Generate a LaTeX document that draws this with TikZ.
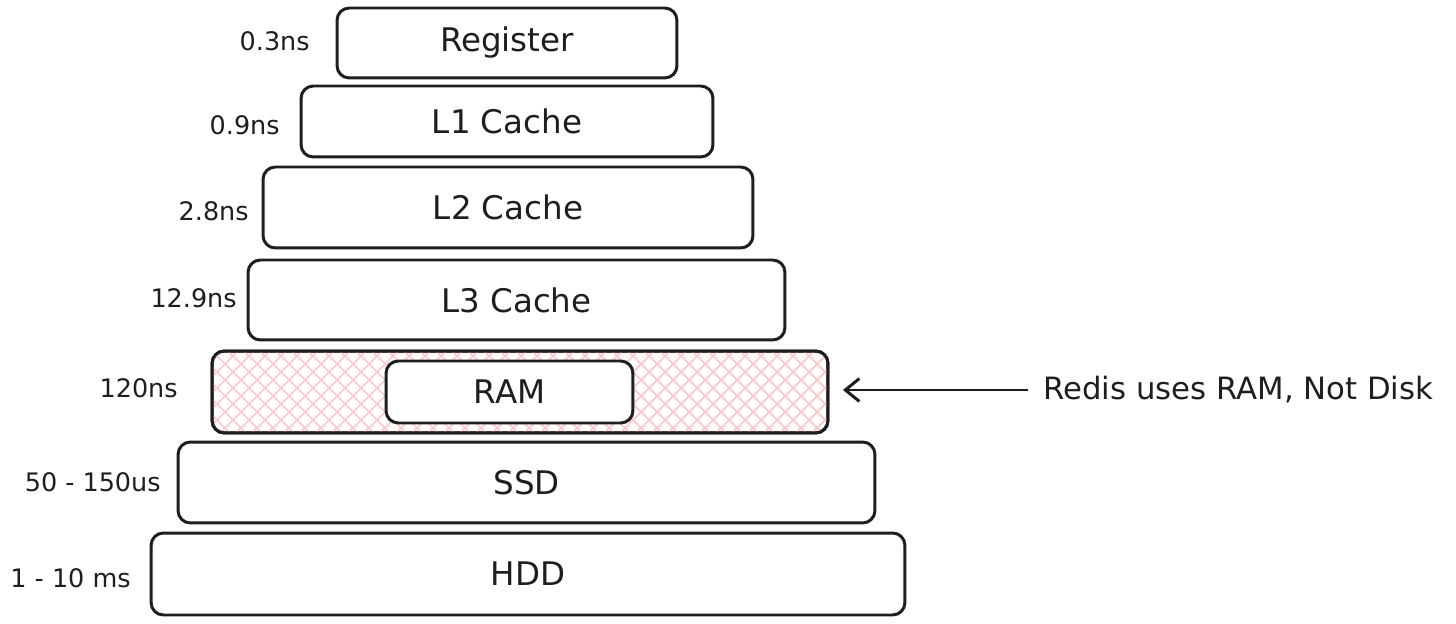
\documentclass[tikz,border=0pt]{standalone}
\usepackage{fontspec}
\setmainfont{DejaVu Sans}
\usetikzlibrary{arrows.meta}
\definecolor{hatchpink}{HTML}{FFC9C9}
\definecolor{inkblack}{HTML}{1E1E1E}
\tikzset{
  tier/.style={draw=inkblack, line width=1.7pt, rounded corners=7pt, inner sep=0pt, outer sep=0pt, fill=white, font=\fontsize{18.5}{22}\selectfont, text=inkblack},
  latency/.style={anchor=east, inner sep=0pt, font=\fontsize{14.5}{17}\selectfont, text=inkblack},
  notetext/.style={anchor=west, inner sep=0pt, font=\fontsize{17.5}{20}\selectfont, text=inkblack},
  pointer/.style={draw=inkblack, line width=1.7pt, -{Straight Barb[length=8pt,width=13pt,line width=1.7pt]}}
}
\begin{document}
\begin{tikzpicture}[x=0.02cm,y=-0.02cm]
\useasboundingbox (0,0) rectangle (1456,624);
% tiers
\node[tier, minimum width=6.8cm, minimum height=1.4cm] (reg) at (507,43) {Register};
\node[tier, minimum width=8.24cm, minimum height=1.42cm] (l1) at (507,121.5) {L1 Cache};
\node[tier, minimum width=9.8cm, minimum height=1.62cm] (l2) at (508,207.5) {L2 Cache};
\node[tier, minimum width=10.74cm, minimum height=1.6cm] (l3) at (516.5,300) {L3 Cache};
% RAM outer with hatching
\node[tier, minimum width=12.32cm, minimum height=1.64cm] (ramouter) at (520,392) {};
\begin{scope}
  \clip[rounded corners=7pt] (ramouter.south west) rectangle (ramouter.north east);
  \foreach \k in {-128,-112,...,768} {
    \draw[hatchpink, line width=1pt] (212+\k,351) -- ++(90,90);
    \draw[hatchpink, line width=1pt] (212+\k,441) -- ++(90,-90);
  }
\end{scope}
\draw[inkblack, line width=1.7pt, rounded corners=7pt] (ramouter.south west) rectangle (ramouter.north east);
\node[tier, minimum width=4.94cm, minimum height=1.24cm] (ram) at (509.5,392) {RAM};
\node[tier, minimum width=13.94cm, minimum height=1.62cm] (ssd) at (526.5,482.5) {SSD};
\node[tier, minimum width=15.08cm, minimum height=1.64cm] (hdd) at (528,574) {HDD};
% latencies
\node[latency] (t0) at (310,41) {0.3ns};
\node[latency] (t1) at (280,125) {0.9ns};
\node[latency] (t2) at (249,211) {2.8ns};
\node[latency] (t3) at (237,298) {12.9ns};
\node[latency] (t4) at (178,388) {120ns};
\node[latency] (t5) at (161,482) {50 - 150us};
\node[latency] (t6) at (131,578) {1 - 10 ms};
% note
\node[notetext] (note) at (1043,390) {Redis uses RAM, Not Disk};
\draw[pointer, shorten >=15*0.02cm, shorten <=15*0.02cm] (note.west) -- (ramouter.east |- note.west);
\end{tikzpicture}
\end{document}
